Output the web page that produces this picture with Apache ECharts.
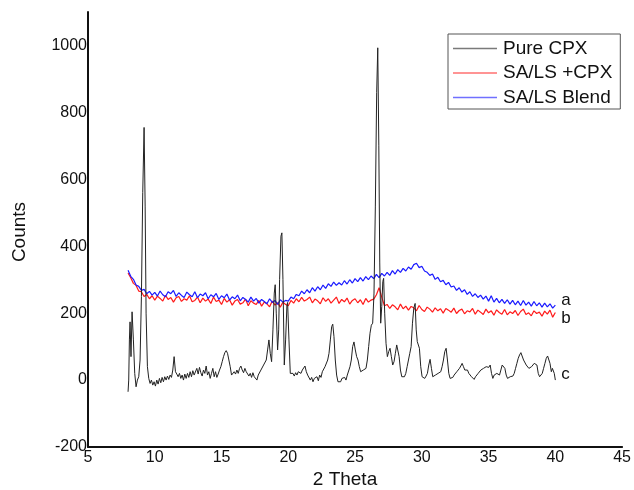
<!DOCTYPE html>
<html>
<head>
<meta charset="utf-8">
<script src="https://cdn.jsdelivr.net/npm/echarts@6/dist/echarts.min.js"></script>
<style>
html,body{margin:0;padding:0;background:#fff;}
#chart{width:634px;height:490px;}
</style>
</head>
<body>
<div id="chart"></div>
<script>
// ---- Data ----
const seriesNames = ['Pure CPX', 'SA/LS +CPX', 'SA/LS Blend'];
const curveTags = ['c', 'b', 'a'];
const xTicks = [5, 10, 15, 20, 25, 30, 35, 40, 45];
const yTicks = [-200, 0, 200, 400, 600, 800, 1000];

// Pure CPX (2 Theta, Counts)
const pureTheta = [8.00,8.05,8.10,8.15,8.22,8.30,8.40,8.50,8.60,8.70,8.80,8.90,9.00,9.10,9.20,9.28,9.35,9.45,9.55,9.65,9.75,9.85,9.95,10.05,10.15,10.25,10.35,10.45,10.55,10.65,10.75,10.85,10.95,11.05,11.15,11.25,11.35,11.45,11.55,11.65,11.75,11.85,11.95,12.05,12.15,12.25,12.35,12.45,12.55,12.65,12.75,12.85,12.95,13.05,13.15,13.25,13.35,13.45,13.55,13.65,13.75,13.85,13.95,14.05,14.15,14.25,14.35,14.45,14.55,14.65,14.75,14.85,14.95,15.05,15.15,15.25,15.35,15.45,15.55,15.65,15.75,15.85,15.95,16.05,16.15,16.25,16.35,16.45,16.55,16.65,16.75,16.85,16.95,17.05,17.15,17.25,17.35,17.45,17.55,17.65,17.75,17.85,17.95,18.05,18.15,18.25,18.35,18.45,18.55,18.65,18.75,18.85,18.95,19.02,19.10,19.20,19.28,19.35,19.45,19.52,19.60,19.70,19.80,19.90,19.95,20.05,20.15,20.25,20.35,20.45,20.55,20.65,20.75,20.85,20.95,21.05,21.15,21.25,21.35,21.45,21.55,21.65,21.75,21.85,21.95,22.05,22.15,22.25,22.35,22.45,22.55,22.65,22.75,22.85,22.95,23.05,23.15,23.25,23.33,23.42,23.52,23.62,23.72,23.82,23.92,24.02,24.12,24.22,24.32,24.42,24.52,24.62,24.72,24.82,24.92,25.02,25.12,25.22,25.32,25.42,25.52,25.62,25.72,25.82,25.92,26.02,26.12,26.22,26.32,26.42,26.52,26.62,26.70,26.78,26.85,26.92,27.00,27.08,27.14,27.22,27.32,27.42,27.52,27.62,27.72,27.82,27.92,28.02,28.12,28.20,28.30,28.40,28.50,28.60,28.70,28.80,28.90,29.00,29.10,29.20,29.30,29.40,29.50,29.58,29.66,29.74,29.82,29.92,30.02,30.12,30.22,30.32,30.42,30.52,30.62,30.72,30.82,30.92,31.02,31.12,31.22,31.32,31.42,31.52,31.62,31.72,31.82,31.92,32.02,32.12,32.22,32.32,32.42,32.52,32.62,32.72,32.82,32.92,33.02,33.12,33.22,33.32,33.42,33.52,33.62,33.72,33.82,33.92,34.02,34.12,34.22,34.32,34.42,34.52,34.62,34.72,34.82,34.92,35.02,35.12,35.22,35.32,35.42,35.52,35.62,35.72,35.82,35.92,36.02,36.12,36.22,36.32,36.42,36.52,36.62,36.72,36.82,36.92,37.02,37.12,37.22,37.32,37.42,37.52,37.62,37.72,37.82,37.92,38.02,38.12,38.22,38.32,38.42,38.52,38.62,38.72,38.82,38.92,39.02,39.12,39.22,39.32,39.42,39.50,39.60,39.70,39.78,39.85,39.92,40.00];
const pureCounts = [-35,0,120,174,70,204,120,20,-20,0,10,60,250,560,755,520,200,40,5,-10,0,-15,-5,-18,0,-12,5,-8,8,-5,10,0,12,2,15,8,30,70,25,18,10,20,5,15,0,18,5,20,8,25,10,28,15,20,35,18,38,22,12,30,20,42,15,25,5,20,35,10,25,8,18,30,40,55,70,82,88,80,78,40,15,10,25,18,30,20,35,42,30,22,35,25,28,12,20,8,22,10,5,0,15,10,30,25,45,40,60,90,120,80,55,150,260,285,200,90,150,300,430,440,300,45,120,225,232,120,20,15,20,12,22,15,25,30,20,30,35,42,25,15,10,0,8,-5,5,0,10,-2,15,8,25,20,40,35,60,80,120,160,167,130,60,15,-5,0,-5,5,0,8,0,15,20,40,60,100,114,90,70,60,40,25,20,30,25,35,60,100,140,164,170,260,520,860,993,700,350,170,220,295,304,200,110,70,85,95,70,45,55,80,105,107,70,30,10,5,10,20,40,60,80,100,170,215,229,150,115,120,95,40,10,15,5,12,20,45,62,35,10,5,15,10,20,15,25,40,60,85,95,60,20,5,10,8,15,12,25,20,35,42,50,40,30,25,30,20,15,10,5,2,10,15,20,25,30,28,35,30,40,42,38,45,20,5,15,10,20,25,15,30,45,50,35,15,5,3,10,15,12,20,35,50,65,75,82,85,60,55,45,50,35,30,40,45,50,55,45,20,10,15,20,35,50,65,72,75,50,25,35,40,20,0];

// SA/LS +CPX and SA/LS Blend share one scan grid (2 Theta)
const scanTheta = [8.0,8.2,8.4,8.6,8.8,9.0,9.2,9.4,9.6,9.8,10.0,10.2,10.4,10.6,10.8,11.0,11.2,11.4,11.6,11.8,12.0,12.2,12.4,12.6,12.8,13.0,13.2,13.4,13.6,13.8,14.0,14.2,14.4,14.6,14.8,15.0,15.2,15.4,15.6,15.8,16.0,16.2,16.4,16.6,16.8,17.0,17.2,17.4,17.6,17.8,18.0,18.2,18.4,18.6,18.8,19.0,19.2,19.4,19.6,19.8,20.0,20.2,20.4,20.6,20.8,21.0,21.2,21.4,21.6,21.8,22.0,22.2,22.4,22.6,22.8,23.0,23.2,23.4,23.6,23.8,24.0,24.2,24.4,24.6,24.8,25.0,25.2,25.4,25.6,25.8,26.0,26.2,26.4,26.6,26.8,27.0,27.2,27.4,27.6,27.8,28.0,28.2,28.4,28.6,28.8,29.0,29.2,29.4,29.6,29.8,30.0,30.2,30.4,30.6,30.8,31.0,31.2,31.4,31.6,31.8,32.0,32.2,32.4,32.6,32.8,33.0,33.2,33.4,33.6,33.8,34.0,34.2,34.4,34.6,34.8,35.0,35.2,35.4,35.6,35.8,36.0,36.2,36.4,36.6,36.8,37.0,37.2,37.4,37.6,37.8,38.0,38.2,38.4,38.6,38.8,39.0,39.2,39.4,39.6,39.8,40.0];
const sacpxCounts = [320,306,289,283,266,264,250,256,243,252,239,251,244,236,253,241,247,233,246,250,235,243,239,252,234,238,248,231,245,236,242,229,248,235,239,226,244,233,240,224,236,241,227,231,242,222,237,230,226,238,221,233,228,219,236,224,231,218,233,226,222,238,230,243,234,247,236,241,248,231,242,237,228,246,235,243,230,239,248,229,241,234,245,227,238,243,231,240,226,244,233,239,242,255,276,248,222,226,214,225,219,210,227,213,221,209,220,216,207,223,211,205,218,212,203,216,207,213,200,214,209,203,215,199,208,212,198,207,204,214,197,209,203,196,212,201,207,194,210,202,197,211,195,204,199,208,193,205,212,196,201,192,207,199,203,191,206,197,209,188,202];
const blendCounts = [328,310,301,284,280,268,271,258,265,254,262,251,266,255,249,264,258,268,250,261,253,247,263,255,249,264,246,257,252,261,243,255,249,259,241,252,246,257,239,249,243,254,237,247,241,233,248,236,244,230,241,235,228,243,232,238,226,240,233,238,236,248,243,256,252,266,258,270,261,276,266,279,270,284,274,288,280,293,283,291,284,297,287,300,290,303,294,306,296,309,300,311,303,316,306,319,311,322,313,327,317,330,322,334,326,338,331,345,349,336,340,326,322,313,317,301,307,294,298,285,292,278,281,268,276,263,270,256,264,250,258,247,254,242,251,236,252,233,244,231,241,229,240,227,238,225,236,223,238,224,233,221,235,222,231,218,230,219,228,215,224];

const seriesColors = ['#222222', '#ff1a1a', '#1a1aff'];

function pairs(xs, ys) { return xs.map((x, i) => [x, ys[i]]); }

const FONT = '"Liberation Sans", Arial, sans-serif';
const chart = echarts.init(document.getElementById('chart'), null, { renderer: 'canvas' });

const seriesData = [pairs(pureTheta, pureCounts), pairs(scanTheta, sacpxCounts), pairs(scanTheta, blendCounts)];
const tagOffsets = [[2, -6], [2, 6], [2, -5]];
const legendColors = ['#7a7a7a', '#ff7070', '#7070ff'];

chart.setOption({
  animation: false,
  backgroundColor: '#ffffff',
  textStyle: { fontFamily: FONT },
  grid: { left: 88, right: 10, top: 12, bottom: 43, containLabel: false },
  legend: {
    orient: 'vertical',
    left: 448, top: 34,
    padding: [5, 8, 2, 5],
    icon: 'rect',
    itemWidth: 44, itemHeight: 1.5, itemGap: 5.5,
    borderColor: '#555', borderWidth: 1,
    backgroundColor: '#fff',
    textStyle: { fontSize: 19, color: '#111', fontFamily: FONT, padding: [0, 0, 0, 1] },
    data: seriesNames.map((n, i) => ({ name: n, itemStyle: { color: legendColors[i] } }))
  },
  xAxis: {
    type: 'value', min: xTicks[0], max: xTicks[xTicks.length - 1], interval: 5,
    axisLine: { show: true, onZero: false, lineStyle: { color: '#111', width: 2 } },
    axisTick: { show: false },
    splitLine: { show: false },
    axisLabel: { color: '#111', fontSize: 16, margin: 3, fontFamily: FONT }
  },
  yAxis: {
    type: 'value', min: yTicks[0], max: 1100, interval: 200,
    axisLine: { show: true, onZero: false, lineStyle: { color: '#111', width: 2 } },
    axisTick: { show: false },
    splitLine: { show: false },
    axisLabel: { color: '#111', fontSize: 16, margin: 1, showMaxLabel: false, fontFamily: FONT,
      formatter: v => (yTicks.indexOf(v) >= 0 ? String(v) : '') }
  },
  graphic: [
    { type: 'text', x: 20, y: 232, rotation: Math.PI / 2,
      style: { text: 'Counts', fontSize: 19, fill: '#111', fontFamily: FONT, textAlign: 'center', textVerticalAlign: 'middle' } },
    { type: 'text', x: 345, y: 480,
      style: { text: '2 Theta', fontSize: 19, fill: '#111', fontFamily: FONT, textAlign: 'center', textVerticalAlign: 'middle' } }
  ],
  series: seriesNames.map((name, i) => ({
    name: name,
    type: 'line',
    data: seriesData[i],
    symbol: 'none',
    showSymbol: false,
    smooth: false,
    z: i === 0 ? 3 : 2,
    lineStyle: { color: seriesColors[i], width: i === 0 ? 1 : 1.2 },
    itemStyle: { color: seriesColors[i] },
    endLabel: { show: true, formatter: curveTags[i], color: '#111', fontSize: 17, fontFamily: FONT, offset: tagOffsets[i], distance: 4 }
  }))
});
</script>
</body>
</html>
